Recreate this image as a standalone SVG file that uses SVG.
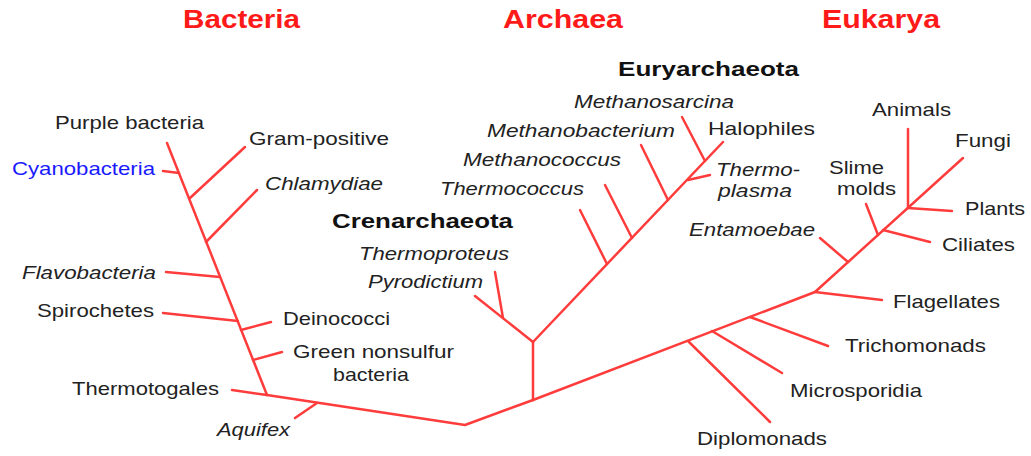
<svg xmlns="http://www.w3.org/2000/svg" width="1031" height="456" viewBox="0 0 1031 456">
<style>
text{font-family:"Liberation Sans",Arial,sans-serif;font-size:19px;fill:#222}
.it{font-style:italic}
.title{font-size:25px;font-weight:bold;fill:#ff1a1a}
.grp{font-size:21px;font-weight:bold;fill:#111}
.blue{fill:#1a1aff}
#connectors line,#connectors polyline{stroke:#ff3c3c;stroke-width:2.5;fill:none;stroke-linecap:round;stroke-linejoin:round}
</style>
<rect width="1031" height="456" fill="#fff"/>
<g id="connectors">
  <!-- Bacteria -->
  <line x1="167" y1="143" x2="267" y2="395"/>
  <line x1="163" y1="171" x2="179" y2="173"/>
  <line x1="190" y1="198" x2="245" y2="147"/>
  <line x1="206" y1="242" x2="257" y2="190"/>
  <line x1="166" y1="272" x2="220" y2="277"/>
  <line x1="163" y1="313" x2="238" y2="321"/>
  <line x1="241" y1="330" x2="271" y2="322"/>
  <line x1="253" y1="360" x2="282" y2="352"/>
  <line x1="232" y1="390" x2="267" y2="395"/>
  <polyline points="267,395 465,425 533,400"/>
  <line x1="295" y1="418" x2="317" y2="403"/>
  <!-- Archaea -->
  <line x1="533" y1="400" x2="533" y2="342"/>
  <line x1="533" y1="342" x2="475" y2="296"/>
  <line x1="495" y1="272" x2="503" y2="318"/>
  <line x1="533" y1="342" x2="723" y2="142"/>
  <line x1="580" y1="210" x2="607" y2="264"/>
  <line x1="605" y1="185" x2="632" y2="238"/>
  <line x1="641" y1="145" x2="668" y2="200"/>
  <line x1="682" y1="117" x2="705" y2="161"/>
  <line x1="688" y1="180" x2="710" y2="175"/>
  <!-- Eukarya -->
  <polyline points="533,400 815,292 963,158"/>
  <line x1="688" y1="341" x2="770" y2="422"/>
  <line x1="712" y1="331" x2="782" y2="373"/>
  <line x1="750" y1="317" x2="828" y2="346"/>
  <line x1="815" y1="292" x2="882" y2="300"/>
  <line x1="848" y1="262" x2="820" y2="238"/>
  <line x1="878" y1="235" x2="866" y2="204"/>
  <line x1="883" y1="230" x2="930" y2="242"/>
  <line x1="908" y1="208" x2="908" y2="129"/>
  <line x1="908" y1="208" x2="952" y2="211"/>
</g>
<g id="title-bacteria"><text class="title" x="183" y="28" textLength="117" lengthAdjust="spacingAndGlyphs">Bacteria</text></g>
<g id="title-archaea"><text class="title" x="503" y="28" textLength="120" lengthAdjust="spacingAndGlyphs">Archaea</text></g>
<g id="title-eukarya"><text class="title" x="822" y="28" textLength="118" lengthAdjust="spacingAndGlyphs">Eukarya</text></g>
<g id="euryarchaeota"><text class="grp" x="618" y="76" textLength="181" lengthAdjust="spacingAndGlyphs">Euryarchaeota</text></g>
<g id="crenarchaeota"><text class="grp" x="332" y="228" textLength="181" lengthAdjust="spacingAndGlyphs">Crenarchaeota</text></g>
<g id="purple-bacteria"><text x="55" y="129" textLength="149" lengthAdjust="spacingAndGlyphs">Purple bacteria</text></g>
<g id="cyanobacteria"><text class="blue" x="12" y="175" textLength="143" lengthAdjust="spacingAndGlyphs">Cyanobacteria</text></g>
<g id="gram-positive"><text x="249" y="145" textLength="140" lengthAdjust="spacingAndGlyphs">Gram-positive</text></g>
<g id="chlamydiae"><text class="it" x="265" y="190" textLength="118" lengthAdjust="spacingAndGlyphs">Chlamydiae</text></g>
<g id="flavobacteria"><text class="it" x="22" y="279" textLength="134" lengthAdjust="spacingAndGlyphs">Flavobacteria</text></g>
<g id="spirochetes"><text x="37" y="317" textLength="117" lengthAdjust="spacingAndGlyphs">Spirochetes</text></g>
<g id="deinococci"><text x="283" y="325" textLength="107" lengthAdjust="spacingAndGlyphs">Deinococci</text></g>
<g id="green-nonsulfur"><text x="293" y="358" textLength="161" lengthAdjust="spacingAndGlyphs">Green nonsulfur</text><text x="333" y="381" textLength="76" lengthAdjust="spacingAndGlyphs">bacteria</text></g>
<g id="thermotogales"><text x="72" y="395" textLength="147" lengthAdjust="spacingAndGlyphs">Thermotogales</text></g>
<g id="aquifex"><text class="it" x="217" y="436" textLength="73" lengthAdjust="spacingAndGlyphs">Aquifex</text></g>
<g id="thermoproteus"><text class="it" x="359" y="260" textLength="150" lengthAdjust="spacingAndGlyphs">Thermoproteus</text></g>
<g id="pyrodictium"><text class="it" x="368" y="288" textLength="115" lengthAdjust="spacingAndGlyphs">Pyrodictium</text></g>
<g id="thermococcus"><text class="it" x="440" y="195" textLength="144" lengthAdjust="spacingAndGlyphs">Thermococcus</text></g>
<g id="methanococcus"><text class="it" x="463" y="166" textLength="158" lengthAdjust="spacingAndGlyphs">Methanococcus</text></g>
<g id="methanobacterium"><text class="it" x="487" y="137" textLength="188" lengthAdjust="spacingAndGlyphs">Methanobacterium</text></g>
<g id="methanosarcina"><text class="it" x="574" y="108" textLength="160" lengthAdjust="spacingAndGlyphs">Methanosarcina</text></g>
<g id="halophiles"><text x="708" y="135" textLength="107" lengthAdjust="spacingAndGlyphs">Halophiles</text></g>
<g id="thermoplasma"><text class="it" x="716" y="176" textLength="84" lengthAdjust="spacingAndGlyphs">Thermo-</text><text class="it" x="718" y="197" textLength="74" lengthAdjust="spacingAndGlyphs">plasma</text></g>
<g id="entamoebae"><text class="it" x="689" y="236" textLength="126" lengthAdjust="spacingAndGlyphs">Entamoebae</text></g>
<g id="slime-molds"><text x="829" y="174" textLength="55" lengthAdjust="spacingAndGlyphs">Slime</text><text x="837" y="195" textLength="59" lengthAdjust="spacingAndGlyphs">molds</text></g>
<g id="animals"><text x="872" y="116" textLength="79" lengthAdjust="spacingAndGlyphs">Animals</text></g>
<g id="fungi"><text x="955" y="147" textLength="56" lengthAdjust="spacingAndGlyphs">Fungi</text></g>
<g id="plants"><text x="965" y="215" textLength="60" lengthAdjust="spacingAndGlyphs">Plants</text></g>
<g id="ciliates"><text x="942" y="251" textLength="73" lengthAdjust="spacingAndGlyphs">Ciliates</text></g>
<g id="flagellates"><text x="893" y="308" textLength="107" lengthAdjust="spacingAndGlyphs">Flagellates</text></g>
<g id="trichomonads"><text x="845" y="352" textLength="141" lengthAdjust="spacingAndGlyphs">Trichomonads</text></g>
<g id="microsporidia"><text x="790" y="397" textLength="132" lengthAdjust="spacingAndGlyphs">Microsporidia</text></g>
<g id="diplomonads"><text x="697" y="445" textLength="130" lengthAdjust="spacingAndGlyphs">Diplomonads</text></g>
</svg>
